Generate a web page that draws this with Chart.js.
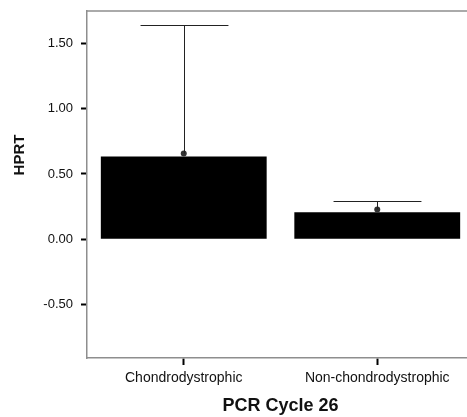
<!DOCTYPE html>
<html>
<head>
<meta charset="utf-8">
<script src="https://cdn.jsdelivr.net/npm/chart.js@4.4.0/dist/chart.umd.min.js"></script>
<style>
  html, body { margin: 0; padding: 0; background: #fff; overflow: hidden; }
  #wrap { width: 467px; height: 417px; overflow: hidden; }
  canvas { display: block; }
</style>
</head>
<body>
<div id="wrap"><canvas id="chart" width="490" height="417"></canvas></div>
<script>
// data
const categories = ['Chondrodystrophic', 'Non-chondrodystrophic'];
const barValues = [0.634, 0.208];
const meanValues = [0.656, 0.229];
const upperValues = [1.64, 0.295];
const yTicks = [-0.5, 0, 0.5, 1.0, 1.5];

const FONT = "'Liberation Sans', Arial, sans-serif";
const AXIS_GREY = '#8e8e8e';

// error bars: stem from the mean point up to the upper value, plus a cap
const errorBars = {
  id: 'errorBars',
  afterDatasetsDraw(chart) {
    const { ctx } = chart;
    const x = chart.scales.x, y = chart.scales.y;
    const meta = chart.getDatasetMeta(0);
    ctx.save();
    ctx.strokeStyle = '#222';
    ctx.lineWidth = 1;
    meanValues.forEach((m, i) => {
      const cx = Math.round(x.getPixelForValue(i)) + 0.5;
      const half = meta.data[i].width * 0.265;
      const yTop = Math.round(y.getPixelForValue(upperValues[i])) + 0.5;
      const yMean = y.getPixelForValue(m);
      ctx.beginPath();
      ctx.moveTo(cx, yMean);
      ctx.lineTo(cx, yTop);
      ctx.moveTo(cx - half, yTop);
      ctx.lineTo(cx + half, yTop);
      ctx.stroke();
    });
    ctx.restore();
  }
};

// top frame line + y title (the original sits above the axis centre)
const frameAndTitle = {
  id: 'frameAndTitle',
  afterDraw(chart) {
    const { ctx, chartArea } = chart;
    ctx.save();
    ctx.strokeStyle = AXIS_GREY;
    ctx.lineWidth = 1.5;
    ctx.beginPath();
    ctx.moveTo(chartArea.left, chartArea.top);
    ctx.lineTo(chartArea.right, chartArea.top);
    ctx.stroke();

    ctx.translate(20, 155);
    ctx.rotate(-Math.PI / 2);
    ctx.fillStyle = '#111';
    ctx.font = "bold 15px " + FONT;
    ctx.textAlign = 'center';
    ctx.textBaseline = 'middle';
    ctx.fillText('HPRT', 0, 0);
    ctx.restore();
  }
};

new Chart(document.getElementById('chart'), {
  data: {
    labels: categories,
    datasets: [
      {
        type: 'bar',
        data: barValues,
        backgroundColor: '#000',
        borderWidth: 0,
        barPercentage: 0.857,
        categoryPercentage: 1.0,
        order: 2
      },
      {
        type: 'line',
        data: meanValues,
        showLine: false,
        pointRadius: 3,
        pointBackgroundColor: '#333',
        pointBorderColor: '#333',
        pointBorderWidth: 0,
        order: 1
      }
    ]
  },
  options: {
    responsive: false,
    animation: false,
    devicePixelRatio: 1,
    layout: { padding: { top: 11, right: 16, bottom: 0, left: 0 } },
    plugins: {
      legend: { display: false },
      tooltip: { enabled: false }
    },
    scales: {
      x: {
        type: 'category',
        offset: true,
        afterFit(scale) { scale.height = 59; },
        grid: {
          offset: false,
          drawOnChartArea: false,
          drawTicks: true,
          tickLength: 7,
          tickWidth: 2,
          tickColor: '#000'
        },
        border: { display: true, color: AXIS_GREY, width: 1.5 },
        ticks: {
          color: '#111',
          padding: 5,
          maxRotation: 0,
          font: { family: FONT, size: 14 }
        },
        title: {
          display: true,
          text: 'PCR Cycle 26',
          color: '#111',
          padding: { top: 0, bottom: 0 },
          font: { family: FONT, size: 18, weight: 'bold' }
        }
      },
      y: {
        min: -0.908,
        max: 1.747,
        afterFit(scale) {
          scale.width = 87;
          scale.paddingTop = 0;
          scale.paddingBottom = 0;
        },
        afterBuildTicks(scale) { scale.ticks = yTicks.map(v => ({ value: v })); },
        grid: {
          drawOnChartArea: false,
          drawTicks: true,
          tickLength: 6,
          tickWidth: 2,
          tickColor: '#000'
        },
        border: { display: true, color: AXIS_GREY, width: 1.5 },
        ticks: {
          color: '#111',
          padding: 8,
          font: { family: FONT, size: 13 },
          callback: v => Number(v).toFixed(2)
        },
        title: { display: false }
      }
    }
  },
  plugins: [errorBars, frameAndTitle]
});
</script>
</body>
</html>
